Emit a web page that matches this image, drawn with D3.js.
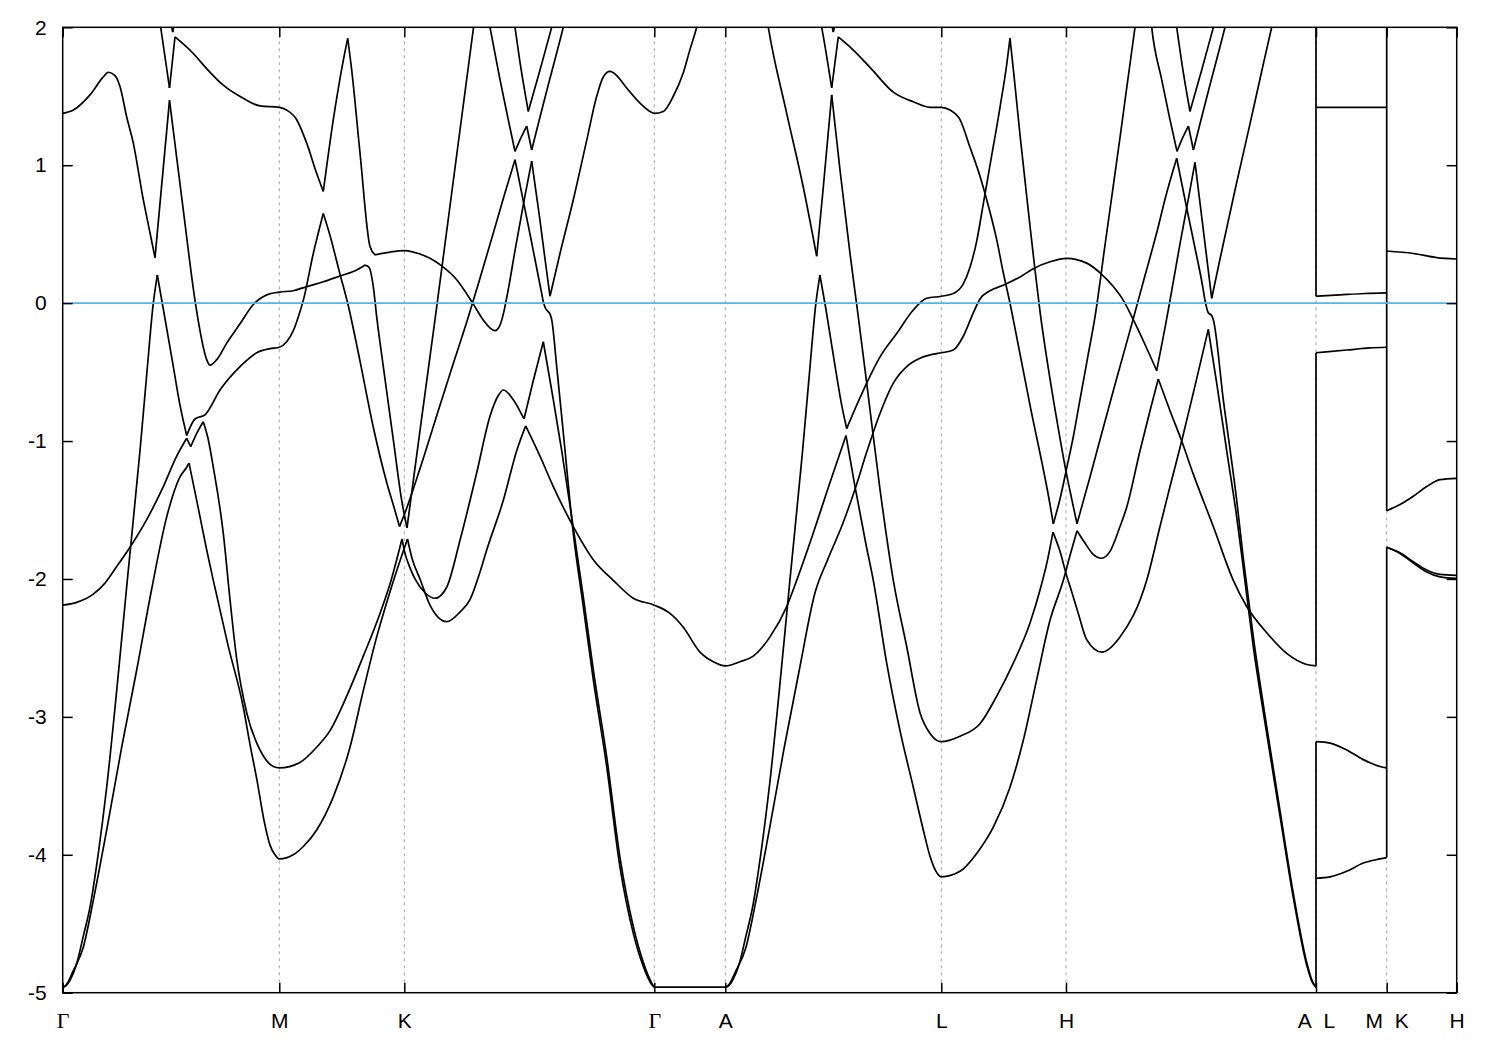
<!DOCTYPE html>
<html><head><meta charset="utf-8">
<script src="https://cdn.jsdelivr.net/npm/d3@7"></script>
<style>body{margin:0;background:#fff}</style>
</head><body>
<svg id="chart" width="1500" height="1050"></svg>
<script>
// ---------- data (k-path in arbitrary units, energy in eV) ----------
const kTicks  = [0, 2.166, 3.416, 5.916, 6.626, 8.786, 10.033, 12.533, 13.24, 13.94];
const kLabels = ["Γ","M","K","Γ","A","L","H","A\u00a0\u00a0L","M\u00a0\u00a0K","H"];
const eTicks  = [2, 1, 0, -1, -2, -3, -4, -5];
const eFermi  = 0;

// Γ-M-K pieces
const bandsGMK = [
 [[0,1.376],[0.106,1.40],[0.273,1.51],[0.406,1.64],[0.456,1.674],[0.523,1.65],[0.573,1.57],[0.64,1.35],[0.706,1.16],[0.806,0.75],[0.873,0.51],[0.923,0.33]],
 [[0.923,0.33],[1.068,1.47]],
 [[1.068,1.47],[1.206,0.675],[1.323,0.02],[1.373,-0.2],[1.406,-0.32],[1.44,-0.41],[1.473,-0.45],[1.54,-0.41],[1.64,-0.29],[1.773,-0.15],[1.906,-0.01],[2.04,0.06],[2.166,0.08],[2.306,0.09],[2.44,0.12],[2.606,0.155],[2.773,0.197],[2.94,0.24],[3.023,0.276]],
 [[3.023,0.276],[3.063,0.26],[3.106,0.12],[3.14,-0.1],[3.206,-0.46],[3.306,-0.99],[3.39,-1.43],[3.443,-1.63]],
 [[3.443,-1.63],[3.583,-0.87],[3.723,-0.12],[3.923,0.98],[4.123,2.08]],
 [[0.953,2.13],[0.98,2.0],[1.068,1.56]],
 [[1.068,1.56],[1.123,1.93]],
 [[1.123,1.93],[1.306,1.81],[1.44,1.70],[1.606,1.58],[1.806,1.485],[1.973,1.43],[2.166,1.42],[2.24,1.40],[2.34,1.33],[2.44,1.16],[2.54,0.94],[2.606,0.81]],
 [[2.606,0.81],[2.706,1.33],[2.806,1.76],[2.85,1.92]],
 [[2.85,1.92],[2.89,1.69],[2.973,1.09],[3.073,0.41],[3.123,0.35]],
 [[3.123,0.35],[3.273,0.37],[3.416,0.38],[3.506,0.37],[3.673,0.325],[3.79,0.27],[3.94,0.17],[4.10,0.0],[4.203,-0.12],[4.273,-0.18],[4.323,-0.2],[4.373,-0.16],[4.406,-0.08],[4.443,0.05],[4.523,0.38],[4.623,0.78],[4.69,1.03]],
 [[1.058,2.12],[1.10,1.965]],
 [[1.10,1.965],[1.143,2.12]],
 [[0,-4.96],[0.033,-4.95],[0.073,-4.91],[0.14,-4.79],[0.206,-4.59],[0.273,-4.38],[0.356,-3.99],[0.44,-3.51],[0.54,-2.81],[0.646,-2.01],[0.773,-1.07],[0.84,-0.52],[0.906,0.0],[0.946,0.204]],
 [[0.946,0.204],[1.003,-0.03],[1.106,-0.46],[1.173,-0.74],[1.24,-0.96]],
 [[1.24,-0.96],[1.323,-0.84],[1.423,-0.81],[1.573,-0.63],[1.773,-0.46],[1.94,-0.36],[2.073,-0.33],[2.166,-0.32],[2.24,-0.28],[2.306,-0.2],[2.356,-0.1],[2.406,0.02],[2.506,0.36],[2.606,0.65]],
 [[2.606,0.65],[2.673,0.49],[2.773,0.21],[2.853,-0.01],[2.973,-0.42],[3.106,-0.9],[3.24,-1.3],[3.313,-1.48],[3.368,-1.62]],
 [[3.368,-1.62],[3.423,-1.52],[3.573,-1.2],[3.773,-0.74],[3.923,-0.4],[4.056,-0.1],[4.173,0.18],[4.323,0.55],[4.423,0.8],[4.523,1.04]],
 [[0,-4.96],[0.033,-4.945],[0.106,-4.84],[0.206,-4.67],[0.306,-4.33],[0.44,-3.82],[0.59,-3.22],[0.74,-2.66],[0.888,-2.08],[1.04,-1.55],[1.173,-1.26],[1.24,-1.19],[1.263,-1.16]],
 [[1.263,-1.16],[1.34,-1.43],[1.44,-1.79],[1.506,-2.01],[1.653,-2.48],[1.806,-2.93],[1.873,-3.2],[1.943,-3.46],[2.013,-3.75],[2.073,-3.93],[2.123,-4.0],[2.166,-4.03],[2.306,-4.0],[2.406,-3.94],[2.54,-3.82],[2.706,-3.58],[2.873,-3.22],[3.006,-2.81],[3.14,-2.42],[3.24,-2.17],[3.34,-1.94],[3.448,-1.71]],
 [[0,-2.19],[0.14,-2.17],[0.306,-2.11],[0.423,-2.03],[0.54,-1.91],[0.673,-1.77],[0.84,-1.57],[1.006,-1.33],[1.14,-1.11],[1.24,-0.98]],
 [[1.24,-0.98],[1.28,-1.04]],
 [[1.28,-1.04],[1.343,-0.94],[1.406,-0.86]],
 [[1.406,-0.86],[1.453,-0.98],[1.506,-1.19],[1.606,-1.67],[1.673,-2.15],[1.74,-2.58],[1.84,-2.97],[1.973,-3.24],[2.106,-3.36],[2.166,-3.37],[2.373,-3.33],[2.54,-3.22],[2.673,-3.10],[2.84,-2.85],[3.006,-2.56],[3.173,-2.25],[3.28,-2.02],[3.393,-1.71]]
];

// K-Γ-A pieces
const bandsKGA = [
 [[3.393,-1.71],[3.418,-1.8],[3.473,-1.92],[3.523,-2.0],[3.623,-2.1],[3.723,-2.14],[3.84,-2.06],[3.973,-1.72],[4.14,-1.23],[4.273,-0.82],[4.356,-0.67],[4.406,-0.63],[4.506,-0.70],[4.613,-0.84]],
 [[4.613,-0.84],[4.703,-0.57],[4.806,-0.28]],
 [[4.806,-0.28],[4.906,-0.70],[4.99,-1.07],[5.09,-1.55],[5.206,-2.13],[5.306,-2.66],[5.44,-3.29],[5.573,-4.02],[5.706,-4.52],[5.806,-4.78],[5.89,-4.93],[5.916,-4.96]],
 [[3.448,-1.71],[3.493,-1.85],[3.573,-2.0],[3.673,-2.19],[3.84,-2.31],[3.973,-2.24],[4.073,-2.15],[4.173,-1.95],[4.24,-1.79],[4.406,-1.43],[4.54,-1.07],[4.63,-0.89]],
 [[4.63,-0.89],[4.773,-1.11],[4.906,-1.33],[5.106,-1.62],[5.306,-1.86],[5.506,-2.01],[5.706,-2.14],[5.916,-2.19],[6.073,-2.25],[6.206,-2.35],[6.373,-2.53],[6.506,-2.60],[6.626,-2.63],[6.773,-2.60],[6.906,-2.56],[7.073,-2.42],[7.24,-2.20],[7.34,-2.01],[7.5,-1.68],[7.65,-1.35],[7.833,-0.96]],
 [[4.523,1.04],[4.606,0.74],[4.673,0.5],[4.79,0.07],[4.803,0.02],[4.823,-0.03],[4.853,-0.06],[4.873,-0.08],[4.89,-0.12],[4.94,-0.46],[5.006,-0.94],[5.106,-1.67],[5.206,-2.2],[5.306,-2.73],[5.44,-3.36],[5.573,-4.09],[5.706,-4.57],[5.806,-4.81],[5.89,-4.94],[5.916,-4.96]],
 [[4.69,1.03],[4.773,0.6],[4.823,0.32],[4.873,0.05]],
 [[4.873,0.05],[4.973,0.36],[5.106,0.75],[5.24,1.18],[5.34,1.50],[5.406,1.64],[5.473,1.68],[5.54,1.65],[5.64,1.56],[5.773,1.45],[5.873,1.39],[5.916,1.376],[6.006,1.39],[6.106,1.50],[6.206,1.67],[6.273,1.84],[6.34,2.0],[6.373,2.1]],
 [[4.243,2.12],[4.273,2.0],[4.373,1.62],[4.453,1.34],[4.523,1.10]],
 [[4.523,1.10],[4.583,1.2],[4.64,1.284]],
 [[4.64,1.284],[4.69,1.11]],
 [[4.69,1.11],[4.773,1.35],[4.873,1.63],[5.006,2.0],[5.033,2.08]],
 [[4.503,2.1],[4.523,2.0],[4.583,1.7],[4.656,1.39]],
 [[4.656,1.39],[4.773,1.69],[4.89,2.0],[4.913,2.06]],
 [[5.916,-4.96],[6.626,-4.96]]
];

// A-L-H pieces
const bandsALH = [
 [[6.626,-4.96],[6.659,-4.95],[6.699,-4.91],[6.766,-4.79],[6.832,-4.59],[6.899,-4.38],[6.982,-3.99],[7.066,-3.51],[7.166,-2.81],[7.272,-2.01],[7.399,-1.07],[7.466,-0.52],[7.532,0.0],[7.572,0.204]],
 [[7.572,0.204],[7.629,-0.03],[7.72,-0.44],[7.79,-0.74],[7.84,-0.91]],
 [[7.84,-0.91],[7.94,-0.74],[8.04,-0.58],[8.173,-0.39],[8.34,-0.22],[8.506,-0.05],[8.64,0.035],[8.786,0.05],[8.906,0.07],[9.006,0.14],[9.073,0.26],[9.14,0.45],[9.206,0.72],[9.273,1.0],[9.373,1.42],[9.44,1.73],[9.473,1.92]],
 [[7.833,-0.96],[7.923,-1.33],[8.033,-1.75],[8.106,-2.01],[8.24,-2.61],[8.373,-3.10],[8.506,-3.51],[8.606,-3.82],[8.673,-4.01],[8.733,-4.12],[8.786,-4.16],[8.973,-4.12],[9.14,-3.99],[9.306,-3.80],[9.473,-3.51],[9.606,-3.17],[9.74,-2.73],[9.873,-2.30],[10.006,-2.01],[10.073,-1.83],[10.143,-1.65]],
 [[6.626,-4.96],[6.659,-4.945],[6.733,-4.84],[6.833,-4.67],[6.933,-4.33],[7.066,-3.82],[7.216,-3.22],[7.366,-2.66],[7.523,-2.1],[7.65,-1.86],[7.8,-1.6],[7.923,-1.35],[8.04,-1.08],[8.173,-0.8],[8.306,-0.58],[8.44,-0.46],[8.573,-0.4],[8.706,-0.37],[8.786,-0.36],[8.906,-0.34],[9.006,-0.24],[9.106,-0.07],[9.173,0.03],[9.273,0.09],[9.406,0.13],[9.573,0.19],[9.706,0.25],[9.873,0.3],[10.04,0.325],[10.24,0.29],[10.373,0.22],[10.506,0.12],[10.606,0.02],[10.706,-0.12],[10.823,-0.3],[10.94,-0.49]],
 [[7.023,2.15],[7.056,2.0],[7.24,1.376],[7.406,0.84],[7.54,0.34]],
 [[7.54,0.34],[7.606,0.84],[7.69,1.51]],
 [[7.69,1.51],[7.773,0.965],[7.873,0.36],[7.956,-0.1],[8.04,-0.58],[8.173,-1.35],[8.306,-2.01],[8.44,-2.49],[8.573,-2.97],[8.673,-3.12],[8.786,-3.18],[8.973,-3.14],[9.173,-3.05],[9.34,-2.85],[9.506,-2.61],[9.673,-2.32],[9.773,-2.08],[9.843,-1.88],[9.903,-1.66]],
 [[7.563,2.1],[7.59,2.0],[7.69,1.56]],
 [[7.69,1.56],[7.756,1.93]],
 [[7.756,1.93],[7.906,1.835],[8.073,1.71],[8.306,1.53],[8.506,1.46],[8.673,1.42],[8.786,1.42],[8.873,1.40],[8.973,1.33],[9.073,1.13],[9.173,0.92],[9.24,0.75],[9.34,0.46],[9.406,0.22],[9.473,0.0],[9.506,-0.12],[9.673,-0.74],[9.873,-1.46],[9.906,-1.60]],
 [[7.66,2.12],[7.706,1.965]],
 [[7.706,1.965],[7.75,2.12]],
 [[9.473,1.92],[9.513,1.65],[9.573,1.22],[9.673,0.56],[9.723,0.24],[9.773,-0.06],[9.873,-0.55],[9.973,-0.98],[10.033,-1.22],[10.093,-1.43],[10.143,-1.60]]
];

// H-A pieces
const bandsHA = [
 [[9.903,-1.66],[9.973,-1.8],[10.033,-1.96],[10.093,-2.1],[10.156,-2.25],[10.24,-2.44],[10.39,-2.53],[10.573,-2.42],[10.84,-2.01],[10.973,-1.62],[11.073,-1.33],[11.19,-1.0],[11.323,-0.6],[11.456,-0.19]],
 [[10.143,-1.65],[10.223,-1.74],[10.303,-1.82],[10.39,-1.85],[10.473,-1.8],[10.573,-1.62],[10.64,-1.48],[10.773,-1.07],[10.873,-0.78],[10.956,-0.55]],
 [[10.956,-0.55],[11.073,-0.78],[11.19,-1.0],[11.306,-1.24],[11.506,-1.62],[11.706,-2.01],[11.84,-2.20],[12.04,-2.39],[12.24,-2.54],[12.44,-2.62],[12.533,-2.63]],
 [[9.906,-1.60],[9.973,-1.42],[10.033,-1.22],[10.103,-0.98],[10.173,-0.70],[10.253,-0.38],[10.323,-0.1],[10.423,0.42],[10.573,1.2],[10.723,2.0],[10.753,2.15]],
 [[10.143,-1.60],[10.273,-1.26],[10.373,-0.99],[10.523,-0.59],[10.703,-0.12],[10.823,0.2],[10.94,0.51],[11.033,0.78],[11.14,1.05]],
 [[10.94,-0.49],[11.023,-0.18],[11.073,0.02],[11.173,0.43],[11.24,0.69],[11.323,1.02]],
 [[11.323,1.02],[11.403,0.55],[11.49,0.035]],
 [[11.49,0.035],[11.573,0.32],[11.723,0.82],[11.873,1.3],[11.993,1.69],[12.09,2.0],[12.123,2.1]],
 [[11.14,1.05],[11.24,0.69],[11.323,0.4],[11.40,0.12],[11.423,0.02],[11.456,-0.07],[11.49,-0.09],[11.506,-0.12],[11.606,-0.70],[11.74,-1.43],[11.806,-1.85],[11.906,-2.42],[12.04,-3.07],[12.173,-3.68],[12.306,-4.28],[12.44,-4.78],[12.493,-4.91],[12.533,-4.96]],
 [[11.456,-0.19],[11.54,-0.58],[11.64,-1.07],[11.74,-1.55],[11.806,-1.92],[11.906,-2.49],[12.04,-3.12],[12.173,-3.72],[12.306,-4.31],[12.44,-4.80],[12.493,-4.92],[12.533,-4.96]],
 [[10.873,2.12],[10.89,2.0],[10.99,1.62],[11.07,1.34],[11.143,1.10]],
 [[11.143,1.10],[11.2,1.2],[11.257,1.284]],
 [[11.257,1.284],[11.307,1.11]],
 [[11.307,1.11],[11.39,1.35],[11.49,1.63],[11.623,2.0],[11.65,2.08]],
 [[11.12,2.1],[11.14,2.0],[11.2,1.7],[11.273,1.39]],
 [[11.273,1.39],[11.39,1.69],[11.507,2.0],[11.53,2.06]]
];

// L-M and K-H pieces
const bandsLM = [
 [[12.533,1.42],[13.24,1.42]],
 [[12.533,0.05],[12.773,0.06],[13.023,0.07],[13.24,0.075]],
 [[12.533,-0.36],[12.84,-0.34],[13.073,-0.325],[13.24,-0.32]],
 [[12.533,-3.18],[12.673,-3.19],[12.84,-3.24],[13.006,-3.31],[13.173,-3.36],[13.24,-3.37]],
 [[12.533,-4.17],[12.673,-4.16],[12.84,-4.12],[13.006,-4.06],[13.173,-4.03],[13.24,-4.02]]
];
const bandsKH = [
 [[13.24,0.378],[13.506,0.36],[13.74,0.33],[13.94,0.32]],
 [[13.24,-1.505],[13.373,-1.46],[13.506,-1.40],[13.64,-1.33],[13.773,-1.28],[13.94,-1.27]],
 [[13.24,-1.77],[13.373,-1.81],[13.506,-1.875],[13.64,-1.935],[13.773,-1.967],[13.94,-1.974]],
 [[13.24,-1.77],[13.373,-1.815],[13.506,-1.885],[13.64,-1.95],[13.773,-1.985],[13.94,-1.996]]
];
// band jumps at the path breaks: [k, E from, E to]
const jumps = [
 [12.533,-4.96,-3.18],[12.533,-2.63,-0.36],[12.533,0.05,2.2],
 [13.24,-4.02,-1.77],[13.24,-1.505,2.2]
];

// ---------- drawing ----------
const W = 1500, H = 1050;
const box = {left: 62.7, right: 1456.7, top: 27.3, bottom: 992.7};
const svg = d3.select("#chart");
const x = d3.scaleLinear().domain([kTicks[0], kTicks[kTicks.length-1]]).range([box.left, box.right]);
const y = d3.scaleLinear().domain([-5, 2]).range([box.bottom, box.top]);
const font = "'Liberation Sans', Arial, Helvetica, sans-serif";

svg.append("rect").attr("width", W).attr("height", H).attr("fill", "#fff");
svg.append("defs").append("clipPath").attr("id", "clip").append("rect")
  .attr("x", box.left).attr("y", box.top).attr("width", box.right - box.left).attr("height", box.bottom - box.top);

// vertical dashed guides at high-symmetry points
svg.append("g").selectAll("line").data(kTicks.slice(1, -1)).join("line")
  .attr("x1", d => x(d)).attr("x2", d => x(d)).attr("y1", box.top).attr("y2", box.bottom)
  .attr("stroke", "#a0a0a0").attr("stroke-width", 1).attr("stroke-dasharray", "3,4");

const plot = svg.append("g").attr("clip-path", "url(#clip)");
const line = d3.line().x(d => x(d[0])).y(d => y(d[1])).curve(d3.curveMonotoneX);
const allBands = [].concat(bandsGMK, bandsKGA, bandsALH, bandsHA, bandsLM, bandsKH);
plot.append("g").selectAll("path").data(allBands).join("path")
  .attr("d", line).attr("fill", "none").attr("stroke", "#000").attr("stroke-width", 1.7)
  .attr("stroke-linejoin", "round");
plot.append("g").selectAll("line").data(jumps).join("line")
  .attr("x1", d => x(d[0])).attr("x2", d => x(d[0])).attr("y1", d => y(d[1])).attr("y2", d => y(d[2]))
  .attr("stroke", "#000").attr("stroke-width", 1.7);

// Fermi level
plot.append("line").attr("x1", box.left).attr("x2", box.right).attr("y1", y(eFermi)).attr("y2", y(eFermi))
  .attr("stroke", "#56b4e9").attr("stroke-width", 1.8);

// axes
function styleAxis(g) {
  g.select(".domain").remove();
  g.selectAll(".tick line").attr("stroke", "#000").attr("stroke-width", 1.5);
  g.selectAll("text").attr("fill", "#000").attr("font-family", font).attr("font-size", 21);
}
svg.append("g").attr("transform", `translate(0,${box.bottom})`)
  .call(d3.axisBottom(x).tickValues(kTicks).tickFormat((d, i) => kLabels[i]).tickSizeInner(-10).tickSizeOuter(0).tickPadding(20))
  .call(styleAxis)
  .call(g => g.selectAll("text").filter(function() { return this.textContent === "Γ"; })
    .attr("font-family", "'Liberation Serif', 'DejaVu Serif', serif").attr("font-size", 22));
svg.append("g").attr("transform", `translate(0,${box.top})`)
  .call(d3.axisTop(x).tickValues(kTicks).tickFormat("").tickSizeInner(-10).tickSizeOuter(0))
  .call(styleAxis);
svg.append("g").attr("transform", `translate(${box.left},0)`)
  .call(d3.axisLeft(y).tickValues(eTicks).tickFormat(d => String(d)).tickSizeInner(-10).tickSizeOuter(0).tickPadding(16))
  .call(styleAxis);
svg.append("g").attr("transform", `translate(${box.right},0)`)
  .call(d3.axisRight(y).tickValues(eTicks).tickFormat("").tickSizeInner(-10).tickSizeOuter(0))
  .call(styleAxis);

// frame
svg.append("rect").attr("x", box.left).attr("y", box.top)
  .attr("width", box.right - box.left).attr("height", box.bottom - box.top)
  .attr("fill", "none").attr("stroke", "#000").attr("stroke-width", 1.5);
</script>
</body></html>
